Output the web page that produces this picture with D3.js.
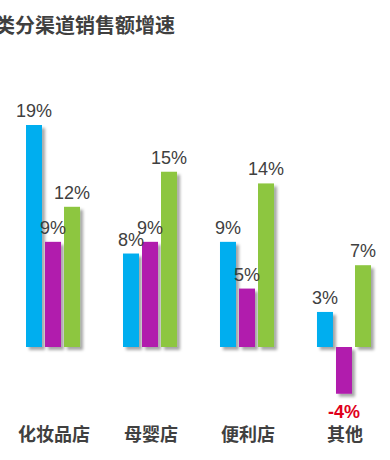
<!DOCTYPE html>
<meta charset="utf-8">
<script src="https://d3js.org/d3.v7.min.js"></script>
<style>
  body { margin: 0; background: #fff; }
</style>
<div id="chart"></div>
<script>

// data
const categories = ["化妆品店", "母婴店", "便利店", "其他"];
const seriesNames = ["s1", "s2", "s3"];
const s1 = [19, 8, 9, 3];
const s2 = [9, 9, 5, -4];
const s3 = [12, 15, 14, 7];
const colors = ["#00aeef", "#b11ead", "#8dc63f"];

const width = 390, height = 460;

const svg = d3.select("#chart")
  .append("svg")
  .attr("width", width)
  .attr("height", height);

// drop shadow like the original bars
const defs = svg.append("defs");
defs.append("filter")
    .attr("id", "shadow")
    .attr("x", "-20%").attr("y", "-20%")
    .attr("width", "160%").attr("height", "140%")
  .append("feDropShadow")
    .attr("dx", 3).attr("dy", 3)
    .attr("stdDeviation", 1.8)
    .attr("flood-color", "#000")
    .attr("flood-opacity", 0.35);

// title (first char is cut off in the original)
svg.append("text")
  .attr("x", -5)
  .attr("y", 33)
  .style("font-family", "'Noto Sans CJK SC', sans-serif")
  .style("font-weight", "bold")
  .style("font-size", "20px")
  .style("fill", "#404040")
  .text("类分渠道销售额增速");

const x0 = d3.scaleBand()
  .domain(categories)
  .range([26, 371])
  .paddingInner(0.443)
  .paddingOuter(0);

const x1 = d3.scaleBand()
  .domain(seriesNames)
  .range([0, x0.bandwidth()])
  .paddingInner(0.158)
  .paddingOuter(0);

const y = d3.scaleLinear()
  .domain([0, 19])
  .range([347, 125]);

const data = categories.map((c, i) => ({
  cat: c,
  vals: [s1[i], s2[i], s3[i]].map((v, j) => ({ key: seriesNames[j], v: v, color: colors[j] }))
}));

const groups = svg.append("g")
  .selectAll("g")
  .data(data)
  .join("g")
  .attr("transform", d => `translate(${x0(d.cat)},0)`);

groups.selectAll("rect")
  .data(d => d.vals)
  .join("rect")
  .attr("x", d => x1(d.key))
  .attr("width", x1.bandwidth())
  .attr("y", d => y(Math.max(0, d.v)))
  .attr("height", d => Math.abs(y(d.v) - y(0)))
  .attr("fill", d => d.color)
  .attr("filter", "url(#shadow)");

groups.selectAll("text.val")
  .data(d => d.vals)
  .join("text")
  .attr("class", "val")
  .attr("x", d => x1(d.key) + x1.bandwidth() / 2)
  .attr("y", d => d.v >= 0 ? y(d.v) - 8 : y(d.v) + 24)
  .attr("text-anchor", "middle")
  .style("font-family", "'Liberation Sans', Arial, sans-serif")
  .style("font-size", "18px")
  .style("font-weight", d => d.v < 0 ? "bold" : "normal")
  .style("fill", d => d.v < 0 ? "#e0001b" : "#404040")
  .text(d => d.v + "%");

// category labels
svg.append("g")
  .selectAll("text")
  .data(categories)
  .join("text")
  .attr("x", d => x0(d) + x0.bandwidth() / 2 + 1)
  .attr("y", 441)
  .attr("text-anchor", "middle")
  .style("font-family", "'Noto Sans CJK SC', sans-serif")
  .style("font-weight", "bold")
  .style("font-size", "18px")
  .style("fill", "#404040")
  .text(d => d);

</script>
